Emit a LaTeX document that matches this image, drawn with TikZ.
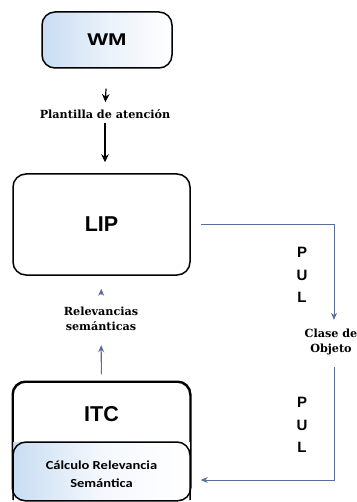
\documentclass[tikz,border=0pt]{standalone}
\usepackage{fontspec}
\setmainfont{DejaVu Serif}
\newfontfamily\boxfont{Liberation Sans}
\newfontfamily\wmfont{Liberation Sans}[FakeStretch=1.3]
\newfontfamily\subfont{Carlito}[FakeStretch=1.18]
\usetikzlibrary{arrows.meta}
\definecolor{linkblue}{HTML}{5A6E9C}
\definecolor{paleblue}{HTML}{C9DDF3}
\tikzset{
  module/.style={draw=black, line width=1.5pt, rounded corners=13pt, fill=white},
  modlabel/.style={font=\boxfont\bfseries\fontsize{21.5}{24}\selectfont},
  flowlabel/.style={font=\bfseries\fontsize{11.2}{14.5}\selectfont, align=center, inner sep=0pt},
  pul/.style={font=\boxfont\bfseries\fontsize{15}{22.5}\selectfont, align=center, inner sep=0pt},
  blackarrow/.style={line width=1.2pt, -{Stealth[length=8pt,width=7.5pt]}},
  bluearrow/.style={draw=linkblue, line width=1.1pt, -{Stealth[length=7pt,width=6pt]}, linkblue},
}
\begin{document}
\begin{tikzpicture}[x=1pt,y=-1pt]
\useasboundingbox (0,0) rectangle (356,502);

% working memory
\node[module, minimum width=130pt, minimum height=56pt, left color=paleblue, right color=white,
      middle color=white!60!paleblue, font=\wmfont\bfseries\fontsize{17}{20}\selectfont] (WM) at (107,40) {WM};

\node[flowlabel, text height=9pt, text depth=2.5pt] (plant) at (105,115) {Plantilla de atención};

% LIP module
\node[module, minimum width=177pt, minimum height=101pt, modlabel] (LIP) at (101.5,224.5) {LIP};

\node[flowlabel, minimum height=28pt] (rel) at (101,319) {Relevancias\\semánticas};

% ITC module with its inner block
\node[module, minimum width=177pt, minimum height=118pt] (ITC) at (101.5,441) {};
\begin{scope}
  \clip[rounded corners=13pt] (ITC.south west) rectangle (ITC.north east);
  \fill[left color=paleblue, right color=white, middle color=white!80!paleblue]
    (13,442) rectangle (190,502);
\end{scope}
\draw[line width=1.5pt, rounded corners=13pt] (13,500) -- (13,442) -- (190,442) -- (190,500);
\draw[line width=1.5pt, rounded corners=13pt] (ITC.south west) rectangle (ITC.north east);
\node[modlabel] (itclabel) at (101.5,414) {ITC};
\node[font=\subfont\bfseries\fontsize{12.3}{18}\selectfont, align=center] (calc) at (101.5,474)
  {Cálculo Relevancia\\Semántica};

% object class
\node[flowlabel, minimum height=28pt] (clase) at (331,342) {Clase de\\Objeto};

\node[pul] (pul1) at (302,275) {P\\U\\L};
\node[pul] (pul2) at (302,425) {P\\U\\L};

% top-down attention path
\draw[blackarrow, shorten <=20pt, shorten >=7pt] (WM.south) -- (plant.north);
\draw[blackarrow, shorten <=2pt, shorten >=11pt] (plant.south) -- (plant.south |- LIP.north);

% semantic relevances going up
\draw[bluearrow, shorten <=7pt, shorten >=12pt] (ITC.north) -- (rel.south);
\draw[bluearrow, shorten <=10pt, shorten >=13pt] (rel.north) -- (LIP.south);

% loop through the object class
\draw[bluearrow, line width=1pt, shorten <=10pt, shorten >=8pt]
  (LIP.east) -| ([xshift=3pt]clase.north);
\draw[bluearrow, line width=1pt, shorten <=11pt, shorten >=10pt]
  ([xshift=3pt]clase.south) |- ([yshift=-6pt]calc.east -| ITC.east);
\end{tikzpicture}
\end{document}
